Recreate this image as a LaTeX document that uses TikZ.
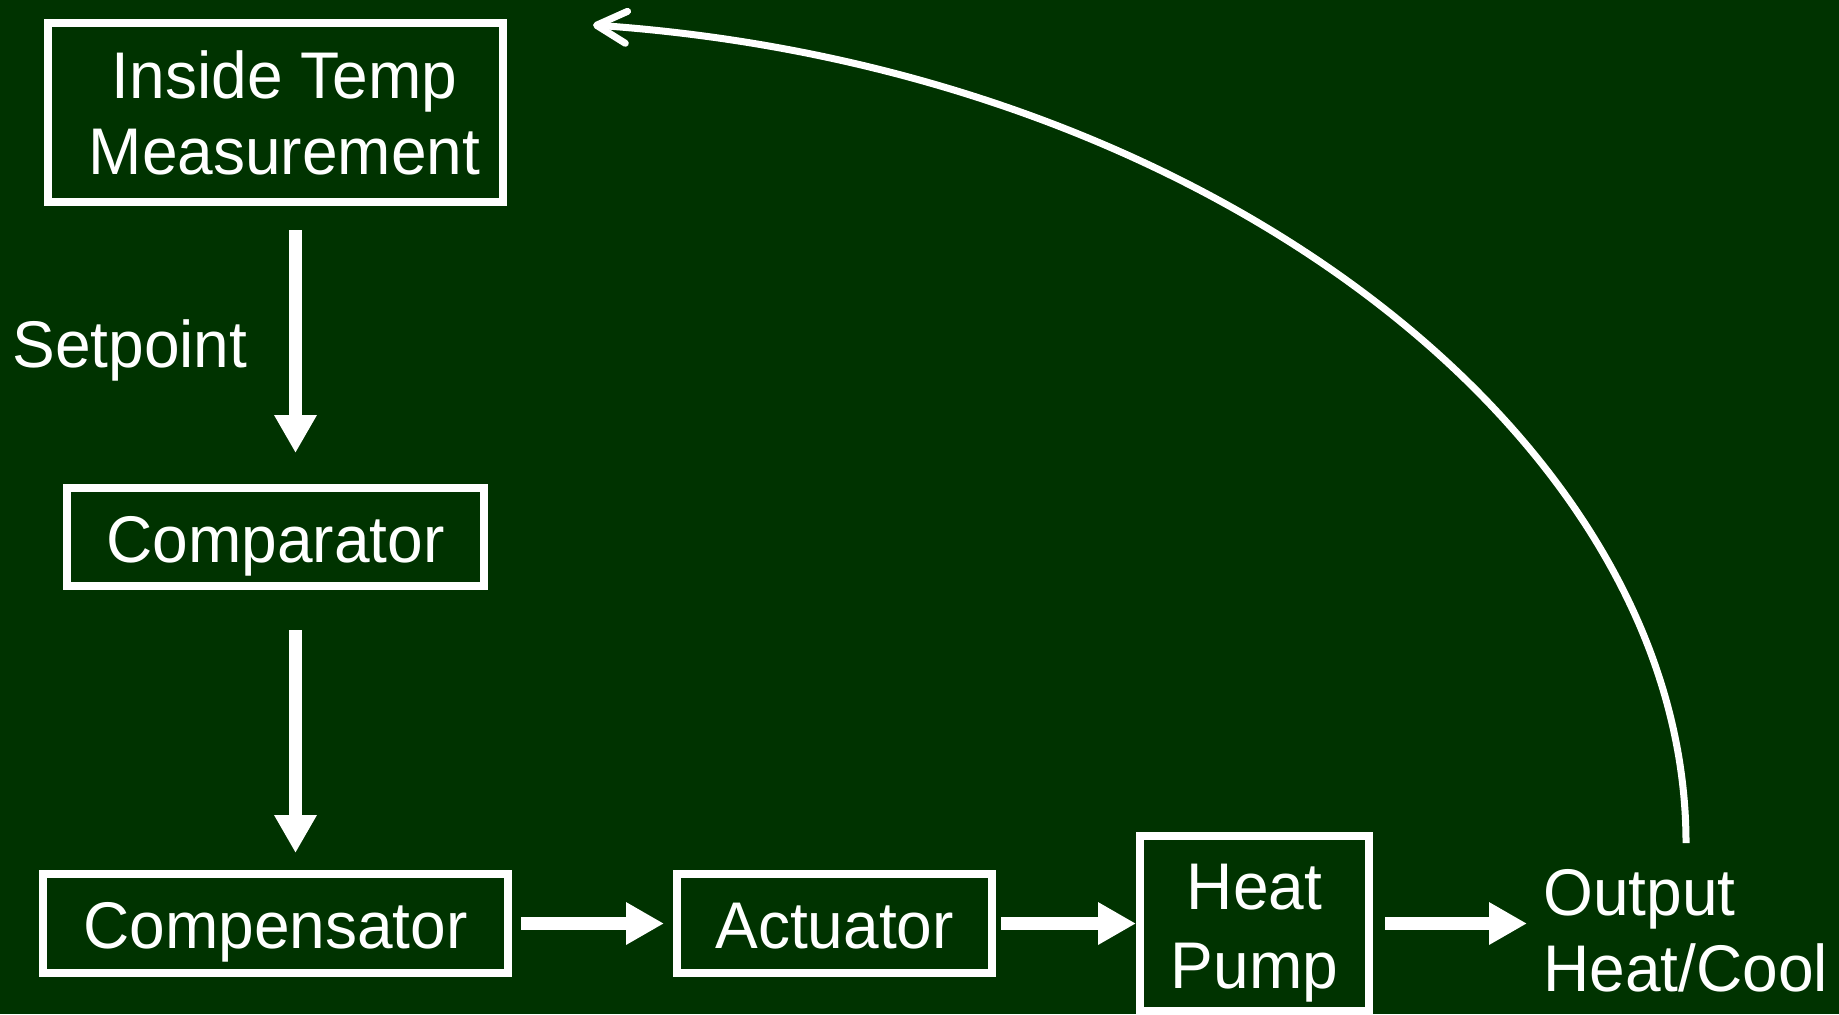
\documentclass[tikz,border=0pt]{standalone}
\usepackage{fontspec}
\setmainfont{Liberation Sans}[FakeStretch=0.97]
\usetikzlibrary{arrows.meta,calc}
\definecolor{boardgreen}{RGB}{0,51,0}
\begin{document}
\begin{tikzpicture}[x=0.5pt,y=-0.5pt,
  every node/.style={text=white, font=\fontsize{33}{38}\selectfont, align=center, inner sep=0pt},
  block/.style={draw=white, line width=4pt, fill=boardgreen, text height=25pt, text depth=0pt},
  flow/.style={draw=white, line width=6.5pt, -{Triangle[length=19pt,width=20pt]}},
  loopback/.style={draw=white, line width=3.5pt, -{Straight Barb[length=15pt,width=16pt,round]}}]
% background
\fill[boardgreen] (0,0) rectangle (1839,1014);
\useasboundingbox (0,0) rectangle (1839,1014);

% blocks
\node[block, text height=62pt, minimum width=227.5pt, minimum height=89.5pt] (itm) at (275.5,112.5)
  {\hspace*{9pt}Inside Temp\\\hspace*{9pt}Measurement};
\node[block, minimum width=208.5pt, minimum height=49pt] (cmp) at (275.5,537) {Comparator};
\node[block, minimum width=232.5pt, minimum height=49.5pt] (cps) at (275.5,923.5) {Compensator};
\node[block, minimum width=157.5pt, minimum height=49.5pt] (act) at (834.5,923.5) {Actuator};
\node[block, text height=65pt, minimum width=114.5pt, minimum height=87.5pt,
  font=\fontsize{33}{39.5}\selectfont] (hp) at (1254.5,923.5) {Heat\\Pump};

% free labels
\node[anchor=base west] (sp) at (12,367) {Setpoint};
\node[anchor=west, align=left] (out) at (1543,931) {Output\\Heat/Cool};

% forward path
\draw[flow, shorten <=12pt, shorten >=15.5pt] ([xshift=10pt]itm.south) -- ([xshift=10pt]cmp.north);
\draw[flow, shorten <=20pt, shorten >=8.5pt] ([xshift=10pt]cmp.south) -- ([xshift=10pt]cps.north);
\draw[flow, shorten <=4.5pt, shorten >=4.5pt] (cps.east) -- (act.west);
\draw[flow, shorten <=2.5pt, shorten >=0pt] (act.east) -- (hp.west);
\draw[flow, shorten <=6pt, shorten >=8pt] (hp.east) -- (hp.east -| out.west);

% feedback loop
\coordinate (fbstart) at (1686,843);
\coordinate (fbend) at (593,25);
\draw[loopback] (fbstart) .. controls (1686,442) and (1213,68) .. (fbend);
\end{tikzpicture}
\end{document}
